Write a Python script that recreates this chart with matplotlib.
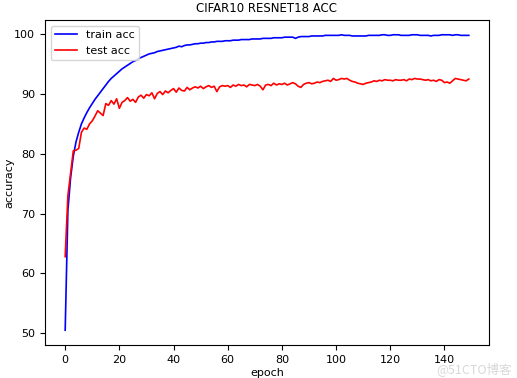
import matplotlib
matplotlib.use("Agg")
import matplotlib.pyplot as plt
import numpy as np

# accuracy per epoch
train_acc = [
    50.5, 70.5, 76.0, 79.6, 82.0, 83.6, 85.0, 86.0, 86.9, 87.7,
    88.4, 89.1, 89.7, 90.3, 90.9, 91.5, 92.1, 92.6, 93.0, 93.4,
    93.8, 94.2, 94.5, 94.8, 95.1, 95.4, 95.6, 95.9, 96.1, 96.3,
    96.5, 96.7, 96.8, 96.9, 97.1, 97.2, 97.3, 97.4, 97.5, 97.6,
    97.7, 97.8, 98.0, 97.9, 98.1, 98.2, 98.2, 98.3, 98.4, 98.4,
    98.5, 98.5, 98.6, 98.6, 98.7, 98.7, 98.8, 98.8, 98.8, 98.9,
    98.9, 98.9, 99.0, 99.0, 99.0, 99.1, 99.1, 99.1, 99.1, 99.2,
    99.2, 99.2, 99.2, 99.3, 99.3, 99.3, 99.3, 99.4, 99.4, 99.4,
    99.4, 99.5, 99.5, 99.5, 99.5, 99.3, 99.5, 99.6, 99.6, 99.6,
    99.6, 99.7, 99.7, 99.7, 99.7, 99.7, 99.8, 99.8, 99.8, 99.8,
    99.8, 99.8, 99.9, 99.8, 99.8, 99.8, 99.7, 99.7, 99.7, 99.7,
    99.7, 99.7, 99.8, 99.8, 99.8, 99.8, 99.8, 99.9, 99.9, 99.8,
    99.8, 99.9, 99.9, 99.9, 99.8, 99.8, 99.8, 99.8, 99.9, 99.9,
    99.9, 99.8, 99.8, 99.8, 99.8, 99.7, 99.8, 99.8, 99.8, 99.9,
    99.9, 99.9, 99.9, 99.8, 99.9, 99.9, 99.8, 99.8, 99.8, 99.8,
]
test_acc = [
    62.8, 73.0, 76.8, 80.5, 80.6, 80.9, 83.6, 84.3, 84.1, 85.0,
    85.5, 86.3, 87.2, 86.8, 86.4, 88.4, 88.1, 88.9, 88.3, 89.2,
    87.6, 88.6, 88.9, 89.4, 88.8, 89.1, 88.6, 89.5, 89.8, 89.3,
    89.9, 89.7, 90.2, 89.2, 90.1, 90.4, 89.9, 90.5, 90.2, 90.6,
    90.9, 90.3, 91.0, 90.6, 90.5, 91.1, 90.7, 91.0, 91.2, 91.0,
    91.3, 90.9, 91.2, 91.4, 91.1, 91.3, 90.4, 91.2, 91.4, 91.3,
    91.4, 91.1, 91.5, 91.3, 91.6, 91.4, 91.5, 91.2, 91.6, 91.5,
    91.4, 91.6, 91.3, 90.7, 91.5, 91.6, 91.4, 91.8, 91.5, 91.7,
    91.6, 91.8, 91.5, 91.7, 91.9, 91.7, 91.3, 91.1, 91.6, 91.8,
    91.9, 91.7, 91.8, 92.0, 91.9, 92.1, 92.2, 92.3, 92.1, 92.6,
    92.3, 92.4, 92.6, 92.5, 92.6, 92.3, 92.1, 92.0, 91.8, 91.7,
    91.6, 91.8, 91.9, 92.0, 92.2, 92.1, 92.3, 92.2, 92.4, 92.3,
    92.3, 92.2, 92.4, 92.3, 92.3, 92.4, 92.2, 92.5, 92.4, 92.6,
    92.5, 92.5, 92.4, 92.3, 92.4, 92.2, 92.3, 92.1, 92.4, 92.3,
    91.9, 92.0, 91.8, 92.2, 92.6, 92.5, 92.4, 92.3, 92.2, 92.5,
]
epochs = np.arange(len(train_acc))

plt.rcParams['font.size'] = 8

fig = plt.figure(figsize=(5.17, 3.78), dpi=100)
ax = fig.add_axes([45/517, 33/378, 444/517, 325/378])

ax.plot(epochs, train_acc, color='blue', lw=1.2, label='train acc')
ax.plot(epochs, test_acc, color='red', lw=1.2, label='test acc')

ax.set_title('CIFAR10 RESNET18 ACC', fontsize=8.5)
ax.set_xlabel('epoch', labelpad=2)
ax.set_ylabel('accuracy', labelpad=0)
ax.legend(loc='upper left', fontsize=8)

# faint watermark from the source image
fig.text(0.99, 0.005, '@51CTO博客', ha='right', va='bottom', fontsize=9,
         color='#d8d8d8', family=['Noto Sans CJK SC', 'DejaVu Sans'])

fig.savefig('out.png', dpi=100)
